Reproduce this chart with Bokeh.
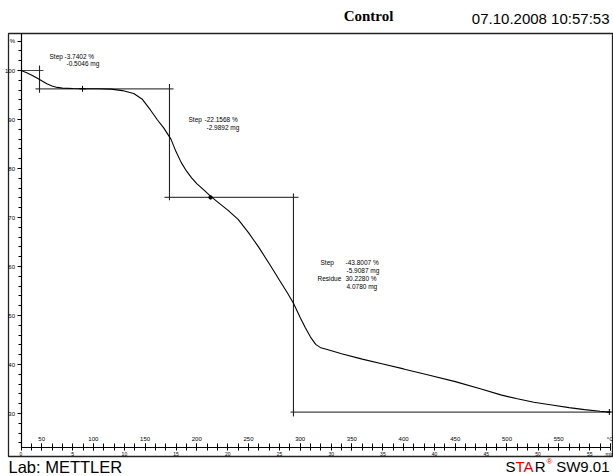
from bokeh.plotting import figure
from bokeh.models import LinearAxis, Range1d, FixedTicker, Label
from bokeh.embed import file_html
from bokeh.resources import INLINE
from bokeh.core.properties import value

# ---- data (TGA curve) ----
temp_c = [30, 35, 40, 45, 50, 55, 60, 65, 70, 80, 90, 105, 117, 128, 139, 147, 155, 162, 168,
          175, 180, 185, 190, 195, 200, 207, 213, 220, 230, 240, 250, 260, 270, 280, 288, 293.5,
          300, 305, 310, 315, 320, 327, 340, 360, 380, 400, 425, 450, 475, 494, 510, 526, 545,
          560, 575, 590, 600]
mass_pct = [100.0, 99.6, 99.1, 98.5, 97.9, 97.3, 96.85, 96.55, 96.4, 96.32, 96.29, 96.27, 96.2,
            95.9, 95.3, 94.2, 92.0, 89.9, 88.3, 86.0, 83.4, 81.2, 79.5, 78.1, 76.9, 75.6, 74.4,
            73.2, 71.5, 69.6, 66.9, 63.9, 60.6, 57.2, 54.5, 52.5, 49.6, 47.5, 45.6, 44.1, 43.4,
            43.0, 42.2, 41.1, 40.1, 39.1, 37.8, 36.5, 35.0, 33.8, 33.0, 32.3, 31.7, 31.2, 30.8,
            30.45, 30.25]

# step evaluation results
step_pct = [-3.7402, -22.1568, -43.8007]
step_mg = [-0.5046, -2.9892, -5.9087]
residue_pct = 30.2280
residue_mg = 4.0780
step_inflection_c = [47.9, 173.6, 293.5]
baseline_levels = [100.0, 96.26, 74.10, 30.30]

# axis ticks
y_ticks = [30, 40, 50, 60, 70, 80, 90, 100, 106]
y_minor = list(range(24, 108, 2))
t_ticks = [50, 100, 150, 200, 250, 300, 350, 400, 450, 500, 550, 600]
t_minor = list(range(30, 601, 10))
time_ticks = [0, 5, 10, 15, 20, 25, 30, 35, 40, 45, 50, 55, 57]

# ---- layout (pixel geometry of the page) ----
W, H = 613, 476
X0PX, T0, KX = 20.5, 30.0, 1.034   # px of 30 degC, px per degC
Y100, KY = 70.0, 4.9                # px of 100 %, px per %
AXIS_Y_PX = 447
TOP_PX = 33


def px2T(px):
    return T0 + (px - X0PX) / KX


def py2W(py):
    return 100 - (py - Y100) / KY


p = figure(width=W, height=H, output_backend="svg", toolbar_location=None,
           x_range=Range1d(px2T(0), px2T(W)), y_range=Range1d(py2W(H), py2W(0)),
           min_border=0, x_axis_type=None, y_axis_type=None)
p.title.visible = False
p.outline_line_color = None
p.xgrid.visible = False
p.ygrid.visible = False
p.background_fill_color = "white"
p.border_fill_color = "white"

# outer frame
p.quad(left=[px2T(8)], right=[px2T(612)], bottom=[py2W(456)], top=[py2W(TOP_PX)],
       fill_color=None, line_color="#222222", line_width=1.3)

FONT = value("Liberation Sans")

# y axis (%)
yax = LinearAxis(fixed_location=T0, bounds=(py2W(AXIS_Y_PX), py2W(TOP_PX)),
                 ticker=FixedTicker(ticks=y_ticks, minor_ticks=y_minor),
                 major_label_overrides={106: "%"},
                 axis_line_color="black", axis_line_width=1.2,
                 major_tick_out=4, major_tick_in=0, minor_tick_out=3, minor_tick_in=0,
                 major_tick_line_color="black", minor_tick_line_color="black",
                 major_label_standoff=2, major_label_text_font_size="6px",
                 major_label_text_font="Liberation Sans", major_label_text_color="black")
p.add_layout(yax, "left")

# temperature axis (labels above the line)
tax = LinearAxis(fixed_location=py2W(AXIS_Y_PX), bounds=(30, 600),
                 ticker=FixedTicker(ticks=t_ticks, minor_ticks=t_minor),
                 major_label_overrides={600: "°C"},
                 axis_line_color="black", axis_line_width=1.2,
                 major_tick_out=4, major_tick_in=3, minor_tick_out=4, minor_tick_in=3,
                 major_tick_line_color="black", minor_tick_line_color="black",
                 major_label_standoff=2, major_label_text_font_size="6px",
                 major_label_text_font="Liberation Sans", major_label_text_color="black")
p.add_layout(tax, "above")

# time axis (labels below the line)
p.extra_x_ranges = {"time": Range1d((px2T(0) - T0) / 10, (px2T(W) - T0) / 10)}
tmax = LinearAxis(x_range_name="time", fixed_location=py2W(AXIS_Y_PX),
                  ticker=FixedTicker(ticks=time_ticks, minor_ticks=[]),
                  major_label_overrides={57: "min"},
                  axis_line_color=None, major_tick_out=3, major_tick_in=0,
                  major_tick_line_color=None,
                  major_label_standoff=0, major_label_text_font_size="5px",
                  major_label_text_font="Liberation Sans", major_label_text_color="black")
p.add_layout(tmax, "below")

# step evaluation lines
STEP_COLOR = "#444444"
h_x0 = [T0, px2T(35), px2T(164), px2T(290)]
h_x1 = [px2T(43), px2T(173), px2T(298), 600]
p.segment(x0=h_x0, y0=baseline_levels, x1=h_x1, y1=baseline_levels,
          line_color=STEP_COLOR, line_width=1.2)
v_top = [baseline_levels[0] + 1.0, baseline_levels[1] + 1.0, baseline_levels[2] + 0.8]
v_bot = [baseline_levels[1] - 0.8, baseline_levels[2] - 0.6, baseline_levels[3] - 0.9]
p.segment(x0=step_inflection_c, y0=v_top, x1=step_inflection_c, y1=v_bot,
          line_color="#222222", line_width=1.1)

# curve
p.line(temp_c, mass_pct, line_color="black", line_width=1.1)

# evaluation limit markers
p.scatter(x=[89.5, 599], y=[baseline_levels[1], baseline_levels[3]], marker="cross",
          size=6, line_color="black", line_width=1)
p.scatter(x=[213.3], y=[baseline_levels[2]], marker="circle", size=3.5,
          fill_color="black", line_color="black")

# step annotations
ann_text = ["Step", f"{step_pct[0]:.4f} %", f"{step_mg[0]:.4f} mg",
            "Step", f"{step_pct[1]:.4f} %", f"{step_mg[1]:.4f} mg",
            "Step", f"{step_pct[2]:.4f} %", f"{step_mg[2]:.4f} mg",
            "Residue", f"{residue_pct:.4f} %", f"{residue_mg:.4f} mg"]
ann_px = [(49, 56), (64, 56), (66, 63),
          (188, 119), (204, 119), (206, 127),
          (320, 262), (345, 262), (346, 270),
          (317, 278), (345, 278), (346, 286)]
p.text(x=[px2T(a) for a, b in ann_px], y=[py2W(b) for a, b in ann_px], text=ann_text,
       text_font=FONT, text_font_size="6.5px", text_baseline="middle", text_align="left",
       text_color="black")


# header and footer
def lab(text, xpx, ypx, size, font="Liberation Sans", style="normal", color="black", align="left"):
    p.add_layout(Label(x=px2T(xpx), y=py2W(ypx), text=text, text_font=font,
                       text_font_size=size, text_font_style=style, text_color=color,
                       text_align=align, text_baseline="middle"))


lab("Control", 368, 15, "15px", font="Liberation Serif", style="bold", align="center")
lab("07.10.2008 10:57:53", 609, 18, "15px", align="right")
lab("Lab: METTLER", 8, 466, "16.5px")
lab("S", 505, 466, "15px")
lab("TA", 515, 466, "15px", color="#e00000")
lab("R", 534.2, 466, "15px")
lab("®", 546, 461, "8px", color="#e00000")
lab("SW9.01", 609, 466, "15px", align="right")

open("out.html", "w").write(file_html(p, INLINE))
